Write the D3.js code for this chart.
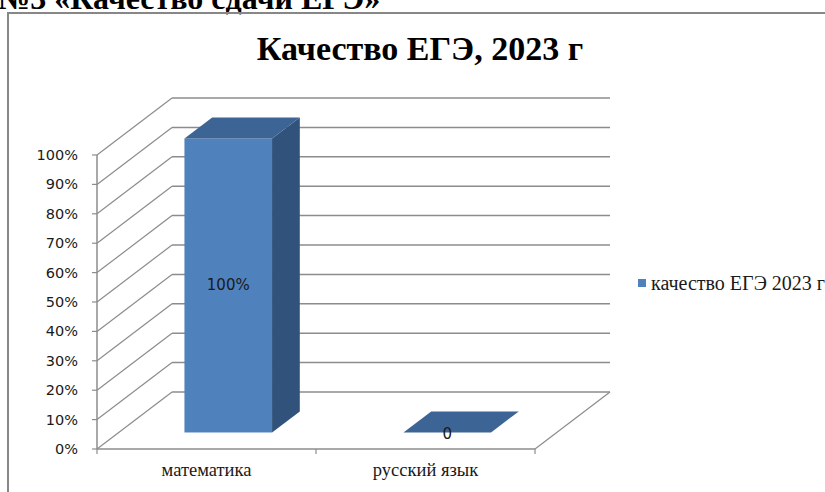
<!DOCTYPE html>
<html lang="ru">
<head>
  <meta charset="UTF-8">
  <title>Качество ЕГЭ, 2023 г</title>
  <script src="https://d3js.org/d3.v7.min.js"></script>
  <style>
    body {
      margin: 0;
      background-color: #fff;
    }
    svg {
      display: block;
    }
  </style>
</head>
<body>
<div id="chart"></div>

<script>
  // Chart data
  const categories = ["математика", "русский язык"];
  const values = [1.0, 0];
  const valueLabels = ["100%", "0"];
  const seriesName = "качество ЕГЭ 2023 г";
  const chartTitle = "Качество ЕГЭ, 2023 г";
  const pageHeading = "№3 «Качество сдачи ЕГЭ»";

  const SERIF = "'Liberation Serif', 'Times New Roman', 'DejaVu Serif', serif";
  const SANS = "'DejaVu Sans', Verdana, sans-serif";

  const colors = {
    front: "#4f81bd",
    top: "#3c6494",
    side: "#30527b",
    grid: "#8c8c8c"
  };

  const width = 825;
  const height = 492;

  const svg = d3.select("#chart")
    .append("svg")
    .attr("width", width)
    .attr("height", height);

  // heading cut off at the top of the page
  svg.append("text")
    .attr("x", -2)
    .attr("y", 9)
    .attr("font-family", SERIF)
    .attr("font-size", 32)
    .attr("font-weight", "bold")
    .text(pageHeading);

  // chart frame
  svg.append("rect")
    .attr("x", 8)
    .attr("y", 13)
    .attr("width", 840)
    .attr("height", 500)
    .attr("fill", "none")
    .attr("stroke", "#878787")
    .attr("stroke-width", 2);

  svg.append("text")
    .attr("x", 420)
    .attr("y", 60)
    .attr("text-anchor", "middle")
    .attr("font-family", SERIF)
    .attr("font-size", 34)
    .attr("font-weight", "bold")
    .text(chartTitle);

  // 3D projection: depth vector
  const depth = { dx: 75, dy: -57 };
  const barFront = 0.29, barBack = 0.66;

  const x = d3.scaleBand()
    .domain(categories)
    .range([97, 535]);

  const y = d3.scaleLinear()
    .domain([0, 1])
    .range([449, 155]);

  const ticks = y.ticks(10);
  const x0 = x.range()[0], x1 = x.range()[1];
  const g = svg.append("g");

  // back wall gridlines and left wall diagonals
  ticks.forEach(t => {
    const yy = y(t);
    g.append("line")
      .attr("x1", x0 + depth.dx).attr("y1", yy + depth.dy)
      .attr("x2", x1 + depth.dx).attr("y2", yy + depth.dy)
      .attr("stroke", colors.grid).attr("stroke-width", 1.5);
    g.append("line")
      .attr("x1", x0).attr("y1", yy)
      .attr("x2", x0 + depth.dx).attr("y2", yy + depth.dy)
      .attr("stroke", colors.grid).attr("stroke-width", 1.2);
    g.append("line")
      .attr("x1", x0 - 5).attr("y1", yy)
      .attr("x2", x0).attr("y2", yy)
      .attr("stroke", colors.grid).attr("stroke-width", 1.2);
    g.append("text")
      .attr("x", 78)
      .attr("y", yy + 5)
      .attr("text-anchor", "end")
      .attr("font-family", SANS)
      .attr("font-size", 14.5)
      .attr("fill", "#1a1a1a")
      .text(d3.format(".0%")(t));
  });

  // floor: front edge (x axis) and right diagonal
  g.append("line")
    .attr("x1", x0).attr("y1", y(0))
    .attr("x2", x1).attr("y2", y(0))
    .attr("stroke", colors.grid).attr("stroke-width", 1.5);
  g.append("line")
    .attr("x1", x1).attr("y1", y(0))
    .attr("x2", x1 + depth.dx).attr("y2", y(0) + depth.dy)
    .attr("stroke", colors.grid).attr("stroke-width", 1.2);
  // vertical value axis
  g.append("line")
    .attr("x1", x0).attr("y1", y(1))
    .attr("x2", x0).attr("y2", y(0))
    .attr("stroke", colors.grid).attr("stroke-width", 1.5);

  // category ticks
  [x0].concat(categories.map(c => x(c) + x.bandwidth())).forEach(tx => {
    g.append("line")
      .attr("x1", tx).attr("y1", y(0))
      .attr("x2", tx).attr("y2", y(0) + 5)
      .attr("stroke", colors.grid).attr("stroke-width", 1.2);
  });

  categories.forEach(c => {
    g.append("text")
      .attr("x", x(c) + x.bandwidth() / 2)
      .attr("y", 476)
      .attr("text-anchor", "middle")
      .attr("font-family", SERIF)
      .attr("font-size", 18.5)
      .attr("fill", "#1a1a1a")
      .text(c);
  });

  // bars
  categories.forEach((c, i) => {
    const bx = x(c) + x.bandwidth() * 0.3;
    const bw = x.bandwidth() * 0.4;
    const fx = depth.dx * barFront, fy = depth.dy * barFront;
    const dx = depth.dx * (barBack - barFront), dy = depth.dy * (barBack - barFront);
    const left = bx + fx;
    const right = left + bw;
    const top = y(values[i]) + fy;
    const bottom = y(0) + fy;

    if (values[i] > 0) {
      g.append("rect")
        .attr("x", left).attr("y", top)
        .attr("width", bw).attr("height", bottom - top)
        .attr("fill", colors.front);
      g.append("path")
        .attr("d", `M${right},${top}L${right + dx},${top + dy}L${right + dx},${bottom + dy}L${right},${bottom}Z`)
        .attr("fill", colors.side);
    }
    g.append("path")
      .attr("d", `M${left},${top}L${left + dx},${top + dy}L${right + dx},${top + dy}L${right},${top}Z`)
      .attr("fill", colors.top);

    const labelY = values[i] > 0 ? (top + bottom) / 2 + 5 : top + 7;
    g.append("text")
      .attr("x", left + bw / 2)
      .attr("y", labelY)
      .attr("text-anchor", "middle")
      .attr("font-family", SANS)
      .attr("font-size", 15)
      .attr("fill", "#1a1a1a")
      .text(valueLabels[i]);
  });

  // legend
  svg.append("rect")
    .attr("x", 638).attr("y", 279)
    .attr("width", 8).attr("height", 8)
    .attr("fill", colors.front);
  svg.append("text")
    .attr("x", 651)
    .attr("y", 290)
    .attr("font-family", SERIF)
    .attr("font-size", 20)
    .attr("fill", "#1a1a1a")
    .text(seriesName);
</script>
</body>
</html>
